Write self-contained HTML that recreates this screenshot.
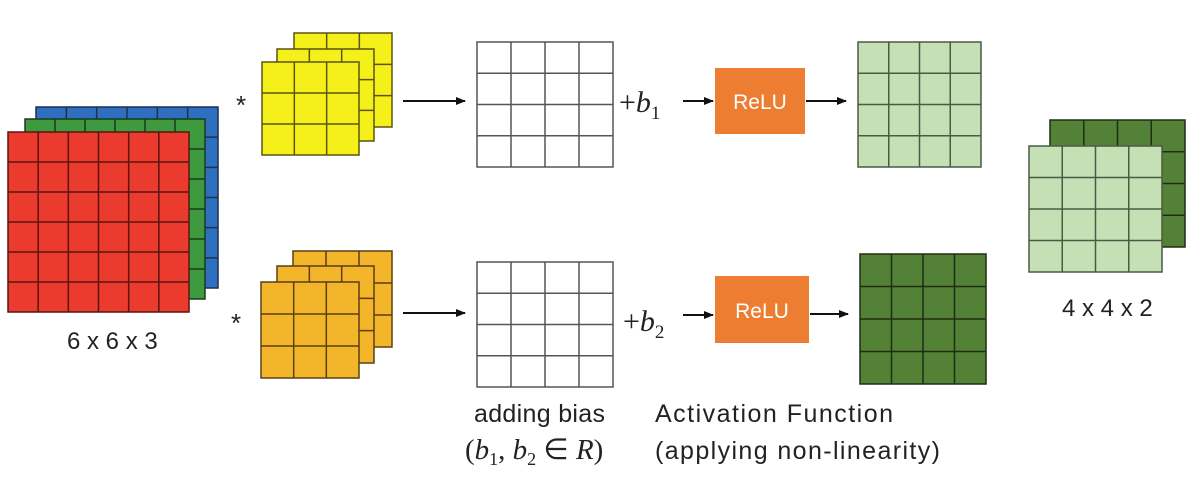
<!DOCTYPE html>
<html><head><meta charset="utf-8"><style>
html,body{margin:0;padding:0;background:#fff;}
svg{display:block}
text{font-family:"Liberation Sans",sans-serif;fill:#222}
.m{font-family:"Liberation Serif",serif;}
</style></head><body>
<svg id="s" width="1193" height="480" viewBox="0 0 1193 480" xmlns="http://www.w3.org/2000/svg">
<defs><marker id="a" markerWidth="10" markerHeight="8" refX="9" refY="4" orient="auto" markerUnits="userSpaceOnUse"><path d="M0,0 L10,4 L0,8 z" fill="#111"/></marker></defs>
<g id="g"></g>
<text x="236" y="114" font-size="26">*</text>
<text x="231" y="332" font-size="26">*</text>
<g stroke="#111" stroke-width="2" marker-end="url(#a)">
<line x1="403" y1="101" x2="465" y2="101"/>
<line x1="403" y1="313" x2="465" y2="313"/>
<line x1="683" y1="101" x2="713" y2="101"/>
<line x1="683" y1="315" x2="713" y2="315"/>
<line x1="806" y1="101" x2="846" y2="101"/>
<line x1="810" y1="314" x2="848" y2="314"/>
</g>
<rect x="715" y="68" width="90" height="66" fill="#ed7d31"/>
<rect x="715" y="276" width="94" height="67" fill="#ed7d31"/>
<text x="760" y="109" font-size="21" text-anchor="middle" style="fill:#fff">ReLU</text>
<text x="762" y="318" font-size="21" text-anchor="middle" style="fill:#fff">ReLU</text>
<text class="m" x="619" y="112" font-size="30">+<tspan font-style="italic">b</tspan><tspan font-size="19" dy="7">1</tspan></text>
<text class="m" x="623" y="331" font-size="30">+<tspan font-style="italic">b</tspan><tspan font-size="19" dy="7">2</tspan></text>
<text x="67" y="349" font-size="24">6 x 6 x 3</text>
<text x="1062" y="316" font-size="24">4 x 4 x 2</text>
<text x="474" y="422" font-size="25" textLength="131">adding bias</text>
<text class="m" x="465" y="459" font-size="29">(<tspan font-style="italic">b</tspan><tspan font-size="18" dy="6">1</tspan><tspan dy="-6">, </tspan><tspan font-style="italic">b</tspan><tspan font-size="18" dy="6">2</tspan><tspan dy="-6"> ∈ </tspan><tspan font-style="italic">R</tspan>)</text>
<text x="655" y="422" font-size="25" textLength="238">Activation Function</text>
<text x="655" y="459" font-size="25" textLength="285">(applying non-linearity)</text>
</svg>
<script>
var g=document.getElementById('g');var ns='http://www.w3.org/2000/svg';
function grid(x,y,w,h,n,fill,st,sw){var r=document.createElementNS(ns,'rect');r.setAttribute('x',x);r.setAttribute('y',y);r.setAttribute('width',w);r.setAttribute('height',h);r.setAttribute('fill',fill);r.setAttribute('stroke',st);r.setAttribute('stroke-width',sw);g.appendChild(r);
var d='';for(var i=1;i<n;i++){var xx=x+w*i/n,yy=y+h*i/n;d+='M'+xx+','+y+'V'+(y+h)+'M'+x+','+yy+'H'+(x+w);}
var p=document.createElementNS(ns,'path');p.setAttribute('d',d);p.setAttribute('stroke',st);p.setAttribute('stroke-width',sw);p.setAttribute('fill','none');g.appendChild(p);}
grid(36,107,182,181,6,'#2e6fc0','#1d3050',1.5);
grid(25,119,180,180,6,'#3f9a3f','#1d3a1d',1.5);
grid(8,132,181,180,6,'#ea3b2e','#5a1410',1.5);
grid(294,33,98,94,3,'#f5f01a','#5a5510',1.5);
grid(277,49,97,92,3,'#f5f01a','#5a5510',1.5);
grid(262,62,97,93,3,'#f5f01a','#5a5510',1.5);
grid(293,251,99,96,3,'#f3b52a','#5a4010',1.5);
grid(277,266,97,97,3,'#f3b52a','#5a4010',1.5);
grid(261,282,98,96,3,'#f3b52a','#5a4010',1.5);
grid(477,42,136,125,4,'#fff','#555',1.5);
grid(477,262,136,125,4,'#fff','#555',1.5);
grid(858,42,123,125,4,'#c5e0b4','#4a5a44',1.5);
grid(860,254,126,130,4,'#538135','#1e2e14',1.5);
grid(1050,120,135,127,4,'#538135','#1e2e14',1.5);
grid(1029,146,133,126,4,'#c5e0b4','#4a5a44',1.5);
</script>
</body></html>
